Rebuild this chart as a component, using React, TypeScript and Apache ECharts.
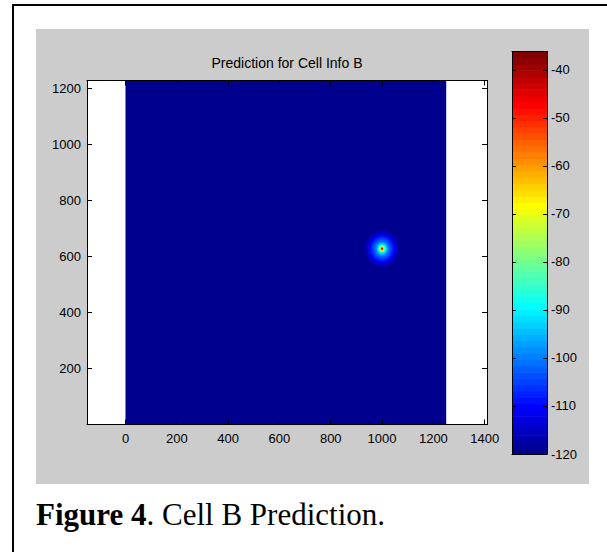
import React, { useEffect, useRef } from "react";
import * as echarts from "echarts";

// ---- data ----
const xTicks = [0, 200, 400, 600, 800, 1000, 1200, 1400];
const yTicks = [200, 400, 600, 800, 1000, 1200];
const cbTicks = [-120, -110, -100, -90, -80, -70, -60, -50, -40];
const xRange = [-150, 1409];
const yRange = [0, 1227];
const fieldX = [0, 1250];
const fieldY = [0, 1227];
const fieldFloor = -120;
const colorMin = -120;
const colorMax = -36.2;
const peakCenter = [1000, 627];
// concentric contours of the prediction blob (radius in map units, value in dBm)
const ringRadius = [68, 62, 56, 50, 44, 38, 32, 27, 22, 18, 15, 12.5, 10, 8, 6, 4, 2];
const ringValue = [-118, -116, -113.5, -110, -107, -104.5, -102, -99.5, -96, -92, -88, -83, -77, -70, -60, -49, -38];

const titleText = "Prediction for Cell Info B";

// MATLAB jet(64) colormap (style)
function jet64(i: number): string {
  const k = i + 1;
  const r = k <= 24 ? 0 : k <= 40 ? (k - 24) / 16 : k <= 56 ? 1 : (16 - (k - 56)) / 16;
  const g = k <= 8 ? 0 : k <= 24 ? (k - 8) / 16 : k <= 40 ? 1 : k <= 56 ? (56 - k) / 16 : 0;
  const b = k <= 8 ? (k + 8) / 16 : k <= 24 ? 1 : k <= 40 ? (40 - k) / 16 : 0;
  const h = (v: number) => Math.round(v * 255);
  return `rgb(${h(r)},${h(g)},${h(b)})`;
}
function colorFor(v: number): string {
  let idx = Math.floor(((v - colorMin) / (colorMax - colorMin)) * 64);
  idx = Math.max(0, Math.min(63, idx));
  return jet64(idx);
}

const FONT = "'Liberation Sans', Arial, Helvetica, sans-serif";
const SERIF = "'Liberation Serif', 'Times New Roman', serif";

export default function App() {
  const ref = useRef<HTMLDivElement>(null);
  useEffect(() => {
    if (!ref.current) return;
    const chart = echarts.init(ref.current, undefined, { renderer: "svg" });

    const fieldData = [[fieldX[0], fieldY[0], fieldX[1], fieldY[1], fieldFloor]];
    const ringData = ringRadius.map((r, i) => [peakCenter[0], peakCenter[1], r, ringValue[i]]);
    const step = (colorMax - colorMin) / 64;
    const bandData = Array.from({ length: 64 }, (_, i) => [0, colorMin + i * step, colorMin + (i + 1) * step, i]);

    const axisBlack = { color: "#000", width: 1 };
    const labelStyle = { color: "#000", fontSize: 13, fontFamily: FONT, formatter: (v: number) => String(v) };

    chart.setOption({
      animation: false,
      backgroundColor: "#ffffff",
      grid: [
        { left: 87, top: 80.5, width: 400, height: 344, show: true, backgroundColor: "#ffffff", borderWidth: 0 },
        { left: 512, top: 51.5, width: 35, height: 402.5, show: false },
      ],
      xAxis: [
        {
          gridIndex: 0, type: "value", position: "bottom", min: xRange[0], max: xRange[1], z: 5,
          axisLine: { onZero: false, lineStyle: axisBlack },
          axisTick: { inside: true, length: 5, customValues: xTicks, lineStyle: axisBlack },
          axisLabel: { customValues: xTicks, margin: 7, ...labelStyle },
          splitLine: { show: false },
        },
        {
          gridIndex: 0, type: "value", position: "top", min: xRange[0], max: xRange[1], z: 5,
          axisLine: { onZero: false, lineStyle: axisBlack },
          axisTick: { inside: true, length: 5, customValues: xTicks, lineStyle: axisBlack },
          axisLabel: { show: false },
          splitLine: { show: false },
        },
        {
          gridIndex: 1, type: "value", position: "bottom", min: 0, max: 1, z: 5,
          axisLine: { onZero: false, lineStyle: axisBlack },
          axisTick: { show: false }, axisLabel: { show: false }, splitLine: { show: false },
        },
        {
          gridIndex: 1, type: "value", position: "top", min: 0, max: 1, z: 5,
          axisLine: { onZero: false, lineStyle: axisBlack },
          axisTick: { show: false }, axisLabel: { show: false }, splitLine: { show: false },
        },
      ],
      yAxis: [
        {
          gridIndex: 0, type: "value", position: "left", min: yRange[0], max: yRange[1], z: 5,
          axisLine: { onZero: false, lineStyle: axisBlack },
          axisTick: { inside: true, length: 5, customValues: yTicks, lineStyle: axisBlack },
          axisLabel: { customValues: yTicks, margin: 6, ...labelStyle },
          splitLine: { show: false },
        },
        {
          gridIndex: 0, type: "value", position: "right", min: yRange[0], max: yRange[1], z: 5,
          axisLine: { onZero: false, lineStyle: axisBlack },
          axisTick: { inside: true, length: 5, customValues: yTicks, lineStyle: axisBlack },
          axisLabel: { show: false },
          splitLine: { show: false },
        },
        {
          gridIndex: 1, type: "value", position: "left", min: colorMin, max: colorMax, z: 5,
          axisLine: { onZero: false, lineStyle: axisBlack },
          axisTick: { inside: true, length: 4, customValues: cbTicks, lineStyle: axisBlack },
          axisLabel: { show: false },
          splitLine: { show: false },
        },
        {
          gridIndex: 1, type: "value", position: "right", min: colorMin, max: colorMax, z: 5,
          axisLine: { onZero: false, lineStyle: axisBlack },
          axisTick: { inside: true, length: 4, customValues: cbTicks, lineStyle: axisBlack },
          axisLabel: { customValues: cbTicks, margin: 4, ...labelStyle },
          splitLine: { show: false },
        },
      ],
      graphic: [
        { type: "rect", z: -10, silent: true, shape: { x: 36, y: 29, width: 553, height: 455 }, style: { fill: "#cccccc" } },
        { type: "rect", z: -10, silent: true, shape: { x: 12, y: 4, width: 2, height: 560 }, style: { fill: "#000" } },
        { type: "rect", z: -10, silent: true, shape: { x: 12, y: 4, width: 600, height: 2 }, style: { fill: "#000" } },
        {
          type: "text", z: 10, silent: true, x: 287, y: 63,
          style: { text: titleText, fill: "#000", fontSize: 14, fontFamily: FONT, align: "center", verticalAlign: "middle" },
        },
        {
          type: "text", z: 10, silent: true, x: 36, y: 514,
          style: {
            text: "{b|Figure 4}{r|. Cell B Prediction.}",
            verticalAlign: "middle",
            rich: {
              b: { fill: "#000", fontSize: 31, fontWeight: "bold", fontFamily: SERIF },
              r: { fill: "#000", fontSize: 31, fontWeight: "normal", fontFamily: SERIF },
            },
          },
        },
      ],
      series: [
        {
          type: "custom", name: "field", xAxisIndex: 0, yAxisIndex: 0, data: fieldData, silent: true,
          renderItem: (params: any, api: any) => {
            const p0 = api.coord([api.value(0), api.value(1)]);
            const p1 = api.coord([api.value(2), api.value(3)]);
            return {
              type: "rect",
              shape: { x: p0[0], y: p1[1], width: p1[0] - p0[0], height: p0[1] - p1[1] },
              style: { fill: colorFor(api.value(4)) },
            };
          },
        },
        {
          type: "custom", name: "peak", xAxisIndex: 0, yAxisIndex: 0, data: ringData, silent: true,
          renderItem: (params: any, api: any) => {
            const c = api.coord([api.value(0), api.value(1)]);
            const s = api.size([api.value(2), api.value(2)]);
            return {
              type: "ellipse",
              shape: { cx: c[0], cy: c[1], rx: s[0], ry: s[1] },
              style: { fill: colorFor(api.value(3)) },
            };
          },
        },
        {
          type: "custom", name: "colorbar", xAxisIndex: 2, yAxisIndex: 2, data: bandData, silent: true,
          renderItem: (params: any, api: any) => {
            const lo = api.coord([0, api.value(1)]);
            const hi = api.coord([1, api.value(2)]);
            return {
              type: "rect",
              shape: { x: lo[0], y: hi[1], width: hi[0] - lo[0], height: lo[1] - hi[1] + 0.5 },
              style: { fill: jet64(api.value(3)) },
            };
          },
        },
      ],
    });
    return () => chart.dispose();
  }, []);
  return <div ref={ref} style={{ position: "fixed", left: 0, top: 0, width: 607, height: 552 }} />;
}
